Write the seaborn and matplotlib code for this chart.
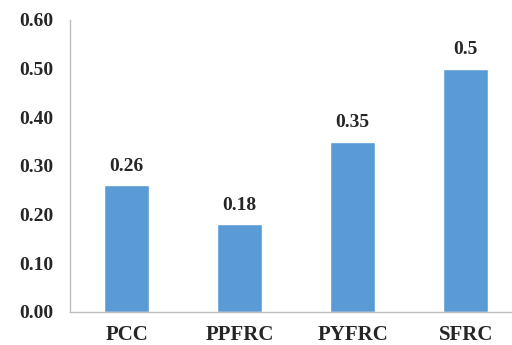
import matplotlib.pyplot as plt
import seaborn as sns
import pandas as pd

categories = ["PCC", "PPFRC", "PYFRC", "SFRC"]
values = [0.26, 0.18, 0.35, 0.5]
value_labels = ["0.26", "0.18", "0.35", "0.5"]
y_ticks = [0.0, 0.1, 0.2, 0.3, 0.4, 0.5, 0.6]

df = pd.DataFrame({"cat": categories, "val": values})

sns.set_style("white")
plt.rcParams["font.family"] = ["Liberation Serif", "DejaVu Serif"]

fig = plt.figure(figsize=(5.12, 3.45), dpi=100)
ax = fig.add_axes([70 / 512, 1 - 312 / 345, 442 / 512, 292 / 345])

sns.barplot(data=df, x="cat", y="val", color="#5B9BD5", saturation=1,
            width=0.4, ax=ax)

ax.set_xlim(-0.5, 3.41)
ax.set_ylim(0, 0.6)
ax.set_yticks(y_ticks)
ax.set_yticklabels([f"{t:.2f}" for t in y_ticks], fontsize=14, fontweight="bold")
ax.set_xticks(range(len(categories)))
ax.set_xticklabels(categories, fontsize=15, fontweight="bold")
ax.set_xlabel("")
ax.set_ylabel("")
ax.tick_params(axis="both", length=0, colors="#262626")
ax.tick_params(axis="x", pad=9)
ax.tick_params(axis="y", pad=12)

for side in ("top", "right"):
    ax.spines[side].set_visible(False)
for side in ("left", "bottom"):
    ax.spines[side].set_color("#BFBFBF")
    ax.spines[side].set_linewidth(1.0)

for i, (v, lab) in enumerate(zip(values, value_labels)):
    ax.text(i, v + 0.022, lab, ha="center", va="bottom", fontsize=14,
            fontweight="bold", color="#262626")

fig.savefig("out.png", dpi=100, facecolor="white")
